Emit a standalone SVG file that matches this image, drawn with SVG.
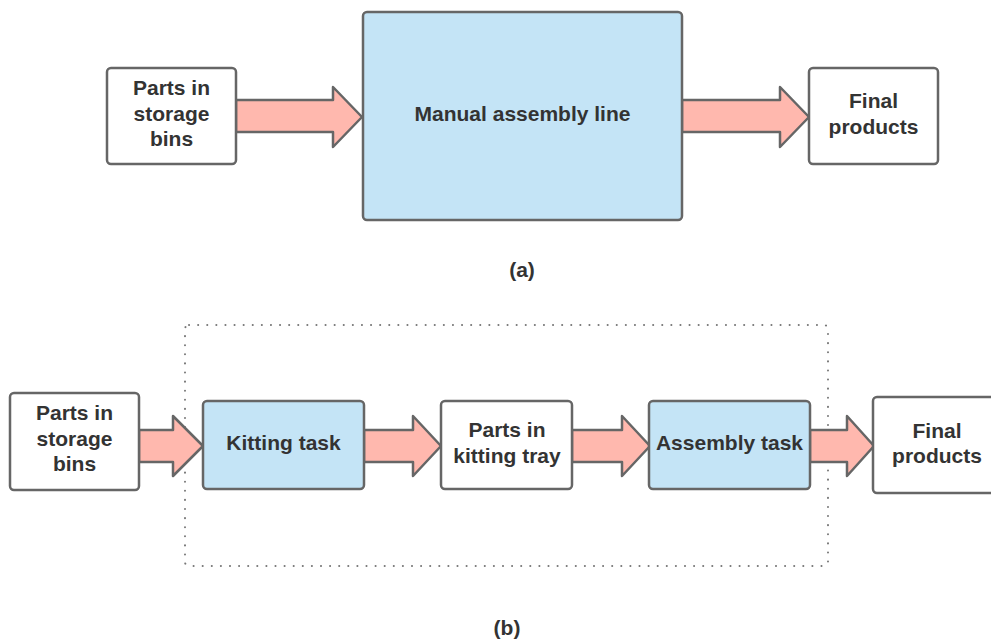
<svg xmlns="http://www.w3.org/2000/svg" width="991" height="640" viewBox="0 0 991 640">
<style>
.box{fill:#ffffff;stroke:#666666;stroke-width:2.5}
.blue{fill:#c4e4f6;stroke:#666666;stroke-width:2.5}
.arr{fill:#ffb8ae;stroke:#666666;stroke-width:2.5;stroke-linejoin:round}
text{font-family:"Liberation Sans",Arial,sans-serif;font-weight:bold;font-size:21px;fill:#333333;text-anchor:middle}
.dot{fill:none;stroke:#777777;stroke-width:2;stroke-dasharray:0.1 9;stroke-linecap:round}
</style>
<rect width="991" height="640" fill="#ffffff"/>
<rect class="dot" x="185" y="325" width="643" height="241" rx="4"/>
<g id="connectors">
<path class="arr" d="M236 100 H333 V87 L362 117 L333 147 V132 H236 Z"/>
<path class="arr" d="M682 100 H780 V87 L809 117 L780 147 V132 H682 Z"/>
<path class="arr" d="M139 430 H173 V416 L203 446 L173 476 V462 H139 Z"/>
<path class="arr" d="M364 430 H413 V416 L441 446 L413 476 V462 H364 Z"/>
<path class="arr" d="M572 430 H622 V416 L650 446 L622 476 V462 H572 Z"/>
<path class="arr" d="M810 430 H847 V416 L874 446 L847 476 V462 H810 Z"/>
</g>
<g id="a_parts"><rect class="box" x="107" y="68" width="129" height="96" rx="4"/>
<text x="171.5" y="95">Parts in</text><text x="171.5" y="121">storage</text><text x="171.5" y="146">bins</text></g>
<g id="a_manual"><rect class="blue" x="363" y="12" width="319" height="208" rx="4"/>
<text x="522.5" y="121">Manual assembly line</text></g>
<g id="a_final"><rect class="box" x="809" y="68" width="129" height="96" rx="4"/>
<text x="873.5" y="108">Final</text><text x="873.5" y="134">products</text></g>
<g id="label_a"><text x="522" y="277">(a)</text></g>
<g id="b_parts"><rect class="box" x="10" y="393" width="129" height="97" rx="4"/>
<text x="74.5" y="420">Parts in</text><text x="74.5" y="446">storage</text><text x="74.5" y="471">bins</text></g>
<g id="b_kitting"><rect class="blue" x="203" y="401" width="161" height="88" rx="4"/>
<text x="283.5" y="450">Kitting task</text></g>
<g id="b_tray"><rect class="box" x="441" y="401" width="131" height="88" rx="4"/>
<text x="507" y="437">Parts in</text><text x="507" y="463">kitting tray</text></g>
<g id="b_assembly"><rect class="blue" x="649" y="401" width="161" height="88" rx="4"/>
<text x="729.5" y="450">Assembly task</text></g>
<g id="b_final"><rect class="box" x="873" y="397" width="125" height="96" rx="4"/>
<text x="937" y="438">Final</text><text x="937" y="463">products</text></g>
<g id="label_b"><text x="507" y="635">(b)</text></g>
</svg>
